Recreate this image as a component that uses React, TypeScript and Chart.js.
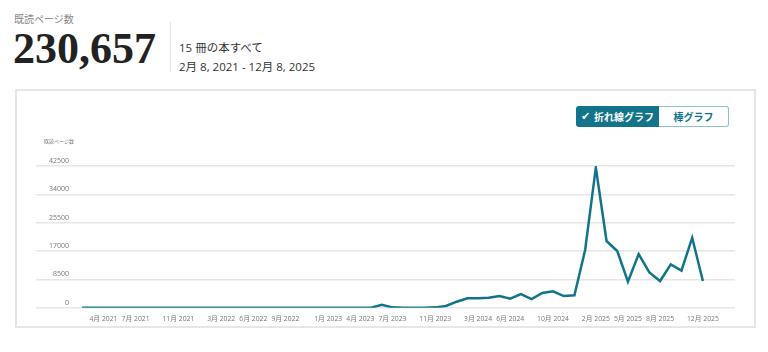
import React, { useEffect, useRef } from 'react';
import { Chart, registerables } from 'chart.js';

Chart.register(...registerables);

// months counted from Jan 2021 (0 = Jan 2021); first data point is Feb 2021
const firstMonthIndex = 1;
// pages read per month, Feb 2021 .. Dec 2025
const pagesRead = [
  0, 0, 0, 0, 0, 0, 0, 0, 0, 0, 0, 0, 0, 0, 0, 0, 0, 0, 0, 0, 0, 0, 0, 0, 0, 0, 0, 0,
  900, 100, 0, 0, 0, 100, 500, 1800, 2800, 2800, 3000, 3500, 2700, 4100, 2600, 4400,
  4900, 3500, 3700, 17300, 42000, 20000, 17000, 7800, 16100, 10600, 8000, 13000, 11100,
  21000, 8000,
];
const tickMonths = [3, 6, 10, 14, 17, 20, 24, 27, 30, 34, 38, 41, 45, 49, 52, 55, 59];
const tickLabels = [
  '4月 2021', '7月 2021', '11月 2021', '3月 2022', '6月 2022', '9月 2022', '1月 2023',
  '4月 2023', '7月 2023', '11月 2023', '3月 2024', '6月 2024', '10月 2024', '2月 2025',
  '5月 2025', '8月 2025', '12月 2025',
];
const yMax = 42500;
const yStep = 8500;
const xMin = -3.3;
const xMax = 62;

const TEAL = '#11748a';
const FONT = '"Open Sans", "Noto Sans CJK JP", sans-serif';

function LineChart() {
  const ref = useRef<HTMLCanvasElement | null>(null);
  useEffect(() => {
    if (!ref.current) return;
    const chart = new Chart(ref.current, {
      type: 'line',
      data: {
        datasets: [
          {
            label: '既読ページ数',
            data: pagesRead.map((v, i) => ({ x: firstMonthIndex + i, y: v })),
            borderColor: TEAL,
            backgroundColor: TEAL,
            borderWidth: 2.5,
            pointRadius: 0,
            tension: 0,
          },
        ],
      },
      options: {
        animation: false,
        responsive: false,
        maintainAspectRatio: false,
        layout: { padding: { left: 19, right: 19, top: 75, bottom: 2.3 } },
        plugins: { legend: { display: false }, tooltip: { enabled: false } },
        scales: {
          x: {
            type: 'linear',
            min: xMin,
            max: xMax,
            afterBuildTicks: (scale: any) => {
              scale.ticks = tickMonths.map((v) => ({ value: v }));
            },
            afterFit: (scale: any) => {
              scale.height = 16;
            },
            grid: { display: false, drawTicks: false },
            border: { display: false },
            ticks: {
              autoSkip: false,
              maxRotation: 0,
              padding: 7,
              color: '#777',
              font: { size: 6.8, family: FONT },
              callback: (value: any) => {
                const idx = tickMonths.indexOf(Number(value));
                return idx >= 0 ? tickLabels[idx] : '';
              },
            },
          },
          y: {
            min: 0,
            max: yMax,
            afterFit: (scale: any) => {
              scale.width = 0;
            },
            grid: { color: '#e6e6e6', lineWidth: 1.5, drawTicks: false },
            border: { display: false },
            ticks: {
              stepSize: yStep,
              mirror: true,
              crossAlign: 'far',
              padding: 13,
              labelOffset: -5,
              color: '#777',
              font: { size: 7, family: FONT },
              callback: (value: any) => String(value),
            },
          },
        },
      },
    });
    return () => chart.destroy();
  }, []);
  return <canvas ref={ref} width={737} height={235} style={{ display: 'block', width: 737, height: 235 }} />;
}

export default function App() {
  return (
    <div style={{ position: 'absolute', left: 0, top: 0, width: 768, height: 352, background: '#fff', fontFamily: FONT, overflow: 'hidden' }}>
      <div style={{ position: 'absolute', left: 14, top: 12, fontSize: 10, color: '#888', lineHeight: '14px' }}>既読ページ数</div>
      <div style={{ position: 'absolute', left: 13, top: 24, fontSize: 44, fontWeight: 700, color: '#222', fontFamily: '"Liberation Serif", serif', lineHeight: '50px' }}>230,657</div>
      <div style={{ position: 'absolute', left: 170, top: 22, width: 1, height: 50, background: '#e2e2e2' }} />
      <div style={{ position: 'absolute', left: 179, top: 40, fontSize: 11.5, color: '#333', lineHeight: '16px' }}>15 冊の本すべて</div>
      <div style={{ position: 'absolute', left: 179, top: 59, fontSize: 11.5, color: '#333', lineHeight: '16px' }}>2月 8, 2021 - 12月 8, 2025</div>

      <div style={{ position: 'absolute', left: 15, top: 89, width: 741, height: 239, border: '2px solid #e6e6e6', boxSizing: 'border-box' }}>
        <LineChart />
      </div>
      <div style={{ position: 'absolute', left: 44, top: 137, fontSize: 5, color: '#777', lineHeight: '8px' }}>既読ページ数</div>

      <div style={{ position: 'absolute', left: 576, top: 106, width: 83, height: 21, background: TEAL, color: '#fff', fontSize: 10, fontWeight: 700, display: 'flex', alignItems: 'center', justifyContent: 'center', borderRadius: '3px 0 0 3px', boxSizing: 'border-box' }}>
        <span style={{ fontFamily: '"DejaVu Sans", sans-serif', marginRight: 4, fontSize: 11 }}>✔</span>折れ線グラフ
      </div>
      <div style={{ position: 'absolute', left: 659, top: 106, width: 70, height: 21, background: '#fff', color: TEAL, fontSize: 10, fontWeight: 700, display: 'flex', alignItems: 'center', justifyContent: 'center', border: '1px solid #8cc2cc', borderLeft: 'none', borderRadius: '0 3px 3px 0', boxSizing: 'border-box' }}>
        棒グラフ
      </div>
    </div>
  );
}
